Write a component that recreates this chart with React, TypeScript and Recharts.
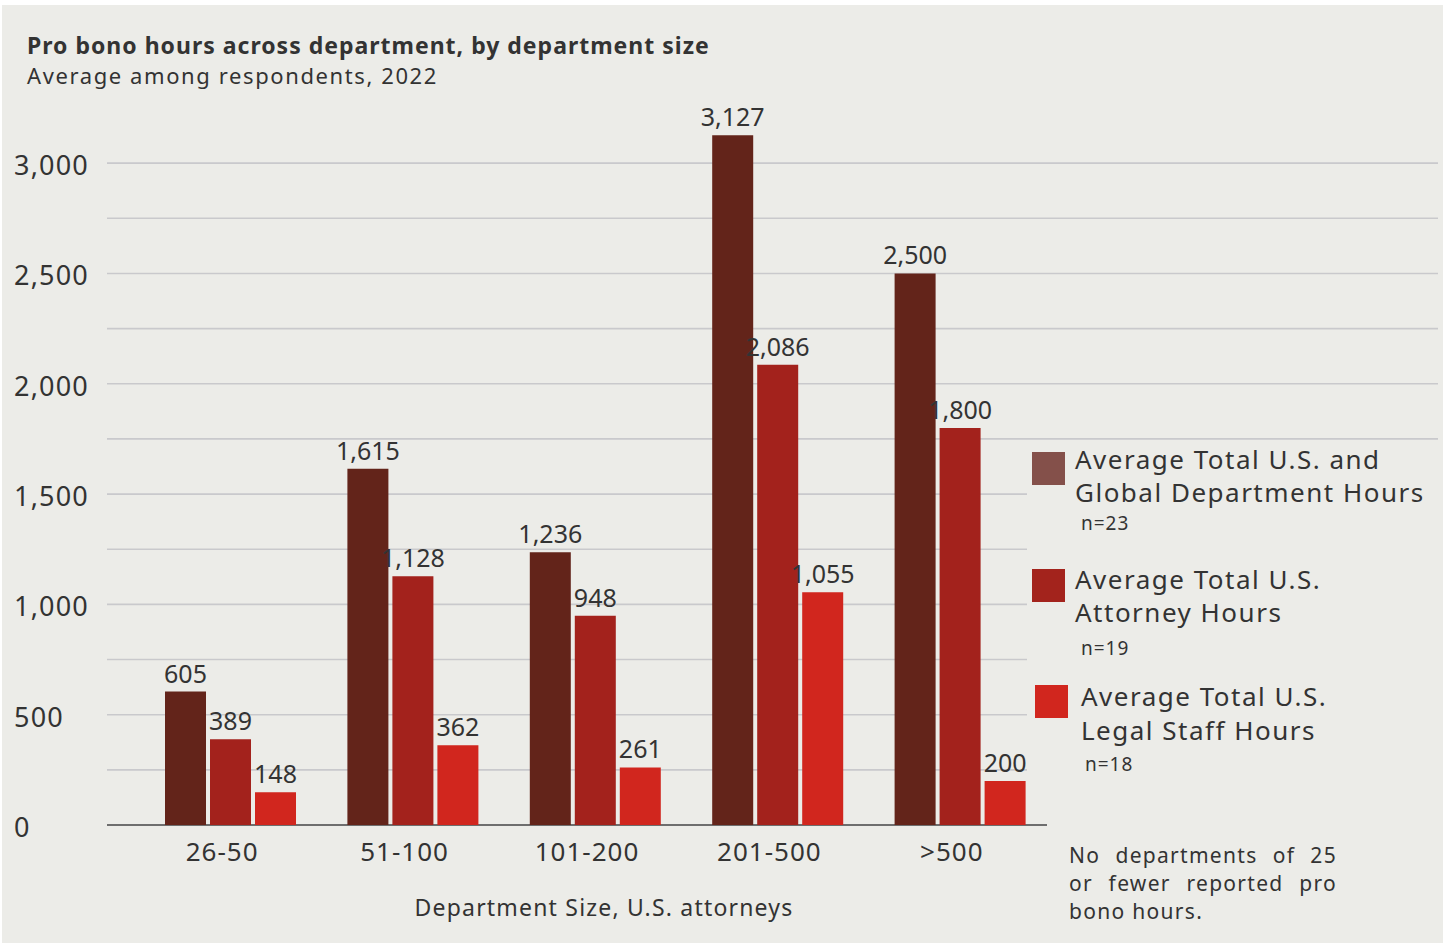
import React from 'react';
import { BarChart, Bar, XAxis, YAxis, CartesianGrid, LabelList, Legend } from 'recharts';

const categories = ['26-50', '51-100', '101-200', '201-500', '>500'];
const globalHours = [605, 1615, 1236, 3127, 2500];
const attorneyHours = [389, 1128, 948, 2086, 1800];
const staffHours = [148, 362, 261, 1055, 200];
const gridValues = [0, 250, 500, 750, 1000, 1250, 1500, 1750, 2000, 2250, 2500, 2750, 3000];
const yTickLabels = [0, 500, 1000, 1500, 2000, 2500, 3000];
const seriesKeys = ['global', 'attorney', 'staff'];
const legendLines = [
  ['Average Total U.S. and', 'Global Department Hours'],
  ['Average Total U.S.', 'Attorney Hours'],
  ['Average Total U.S.', 'Legal Staff Hours'],
];
const legendN = ['n=23', 'n=19', 'n=18'];
const titleText = 'Pro bono hours across department, by department size';
const subtitleText = 'Average among respondents, 2022';
const xAxisTitle = 'Department Size, U.S. attorneys';
const noteLines = ['No departments of 25', 'or fewer reported pro', 'bono hours.'];

const data = categories.map((c, i) => ({
  category: c,
  global: globalHours[i],
  attorney: attorneyHours[i],
  staff: staffHours[i],
}));

const FONT = '"Noto Sans", "Open Sans", sans-serif';
const TEXT = '#333333';
const barColors = ['#63241A', '#A3221C', '#D1261E'];
const swatchColors = ['#84504A', '#A3231C', '#D1261E'];

const W = 1447;
const H = 945;
const PLOT_TOP = 108;
const PLOT_BOTTOM = 825;
const Y_MAX = 3250;
const X_AXIS_H = 40;

const fmt = (v: number) => v.toLocaleString('en-US');

const valueAtY = (y: number) => ((PLOT_BOTTOM - y) / (PLOT_BOTTOM - PLOT_TOP)) * Y_MAX;

const GridLine = (props: any) => {
  const { x1, y1, x2, y2, key, index } = props;
  const v = valueAtY(y1);
  if (v > 3100) return <g key={key ?? index} />;
  if (v < 1) {
    return <line key={key ?? index} x1={x1} y1={y1} x2={1047} y2={y2} stroke="#6e6e6e" strokeWidth={2} />;
  }
  const end = v <= 1520 ? 1027 : x2 - 2;
  return <line key={key ?? index} x1={x1} y1={y1} x2={end} y2={y2} stroke="#C9C9CC" strokeWidth={1.6} />;
};

const YTick = (props: any) => {
  const { y, payload } = props;
  if (!yTickLabels.includes(payload.value)) return <g />;
  return (
    <text x={14} y={y} dy={12} textAnchor="start" fontSize={27} letterSpacing={1.2} fill={TEXT} fontFamily={FONT}>
      {fmt(payload.value)}
    </text>
  );
};

const XTick = (props: any) => {
  const { x, y, payload } = props;
  return (
    <text x={x} y={y} dx={-8} dy={28} textAnchor="middle" fontSize={26} letterSpacing={1} fill={TEXT} fontFamily={FONT}>
      {payload.value}
    </text>
  );
};

const ValueLabel = (props: any) => {
  const vb = props.viewBox || {};
  const x = props.x ?? vb.x;
  const y = props.y ?? vb.y;
  const width = props.width ?? vb.width;
  const value = props.value;
  if (x == null || y == null) return null;
  return (
    <text x={x + width / 2} y={y - 9} textAnchor="middle" fontSize={25} fill={TEXT} fontFamily={FONT}>
      {fmt(Number(value))}
    </text>
  );
};

const legendPos = [
  { sx: 1032, sy: 452, tx: 1075, ty: 443, nx: 1081, ny: 512, lh: 33 },
  { sx: 1032, sy: 569, tx: 1075, ty: 563, nx: 1081, ny: 637, lh: 33 },
  { sx: 1035, sy: 685, tx: 1081, ty: 679, nx: 1085, ny: 753, lh: 34 },
];

const LegendContent = () => (
  <div style={{ position: 'relative', width: 0, height: 0 }}>
    {legendLines.map((lines, i) => {
      const p = legendPos[i];
      return (
        <React.Fragment key={i}>
          <div
            style={{
              position: 'absolute',
              left: p.sx,
              top: p.sy,
              width: 33,
              height: 33,
              background: swatchColors[i],
            }}
          />
          <div
            style={{
              position: 'absolute',
              left: p.tx,
              top: p.ty,
              fontSize: 26,
              letterSpacing: 1.5,
              lineHeight: `${p.lh}px`,
              color: TEXT,
              fontFamily: FONT,
              whiteSpace: 'nowrap',
            }}
          >
            {lines.map((l, j) => (
              <div key={j}>{l}</div>
            ))}
          </div>
          <div
            style={{
              position: 'absolute',
              left: p.nx,
              top: p.ny,
              fontSize: 19,
              letterSpacing: 1,
              lineHeight: '22px',
              color: TEXT,
              fontFamily: FONT,
              whiteSpace: 'nowrap',
            }}
          >
            {legendN[i]}
          </div>
        </React.Fragment>
      );
    })}
  </div>
);

export default function App() {
  return (
    <div style={{ position: 'relative', width: W, height: H, background: '#ffffff', overflow: 'hidden' }}>
      <style>{`body{margin:0;}`}</style>
      <div style={{ position: 'absolute', left: 2, top: 5, width: 1441, height: 938, background: '#ECECE8' }} />
      <div
        style={{
          position: 'absolute',
          left: 27,
          top: 32,
          fontSize: 23,
          letterSpacing: 1.0,
          lineHeight: '26px',
          fontWeight: 700,
          color: TEXT,
          fontFamily: FONT,
          whiteSpace: 'nowrap',
        }}
      >
        {titleText}
      </div>
      <div
        style={{
          position: 'absolute',
          left: 27,
          top: 62,
          fontSize: 22,
          letterSpacing: 1.6,
          lineHeight: '26px',
          color: TEXT,
          fontFamily: FONT,
          whiteSpace: 'nowrap',
        }}
      >
        {subtitleText}
      </div>
      <div style={{ position: 'absolute', left: 0, top: 0 }}>
        <BarChart
          width={W}
          height={H}
          data={data}
          margin={{ top: PLOT_TOP, right: 7, left: 7, bottom: H - PLOT_BOTTOM - X_AXIS_H }}
          barGap={4}
          barSize={41}
        >
          <CartesianGrid vertical={false} horizontal={GridLine} />
          <XAxis
            dataKey="category"
            height={X_AXIS_H}
            axisLine={false}
            tickLine={false}
            padding={{ left: 32, right: 389 }}
            tick={<XTick />}
            interval={0}
          />
          <YAxis
            width={100}
            domain={[0, Y_MAX]}
            ticks={gridValues}
            interval={0}
            axisLine={false}
            tickLine={false}
            tick={<YTick />}
          />
          <Legend content={<LegendContent />} wrapperStyle={{ position: 'absolute', left: 0, top: 0, width: 0, height: 0 }} />
          {seriesKeys.map((k, i) => (
            <Bar key={k} dataKey={k} fill={barColors[i]} isAnimationActive={false}>
              <LabelList dataKey={k} position="top" content={<ValueLabel />} />
            </Bar>
          ))}
        </BarChart>
      </div>
      <div
        style={{
          position: 'absolute',
          left: 404,
          width: 400,
          top: 893,
          fontSize: 23,
          letterSpacing: 1.2,
          lineHeight: '28px',
          textAlign: 'center',
          color: TEXT,
          fontFamily: FONT,
          whiteSpace: 'nowrap',
        }}
      >
        {xAxisTitle}
      </div>
      <div
        style={{
          position: 'absolute',
          left: 1069,
          top: 841,
          width: 268,
          fontSize: 21,
          letterSpacing: 1.3,
          lineHeight: '28px',
          color: TEXT,
          fontFamily: FONT,
        }}
      >
        {noteLines.map((l, i) => (
          <div
            key={i}
            style={{
              textAlign: 'justify',
              textAlignLast: i < noteLines.length - 1 ? 'justify' : 'left',
              whiteSpace: 'nowrap',
            }}
          >
            {l}
          </div>
        ))}
      </div>
    </div>
  );
}
